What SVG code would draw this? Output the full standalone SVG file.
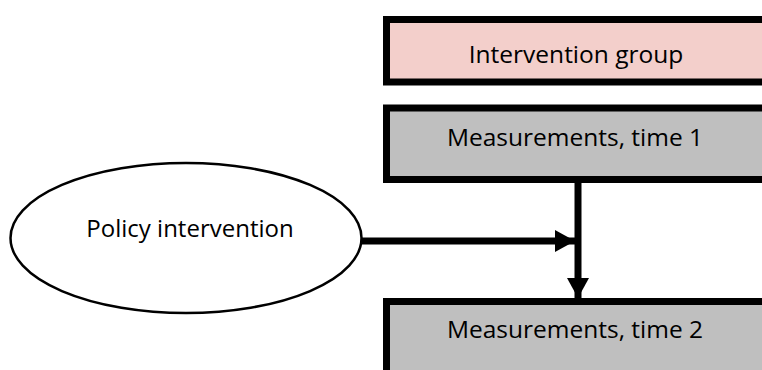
<svg xmlns="http://www.w3.org/2000/svg" width="762" height="370" viewBox="0 0 762 370">
<defs>
<style>
.box{stroke:#000;stroke-width:7}
.pink{fill:#f3cfcb}
.gray{fill:#bfbfbf}
.lbl{font-family:"Open Sans","Noto Sans",sans-serif;font-size:24.5px;fill:#000;text-anchor:middle}
.conn{stroke:#000;stroke-width:7;fill:none}
</style>
<marker id="ah" viewBox="0 0 20 22" refX="20" refY="11" markerWidth="20" markerHeight="22" markerUnits="userSpaceOnUse" orient="auto">
<path d="M0,0 L20,11 L0,22 Z" fill="#000"/>
</marker>
</defs>
<rect width="762" height="370" fill="#fff"/>
<g id="intervention-group">
<rect class="box pink" x="386.5" y="19.5" width="380" height="62.5"/>
<text class="lbl" x="576" y="63">Intervention group</text>
</g>
<g id="measurements-time-1">
<rect class="box gray" x="386.5" y="108" width="380" height="71.5"/>
<text class="lbl" x="575" y="146">Measurements, time 1</text>
</g>
<g id="measurements-time-2">
<rect class="box gray" x="386.5" y="301.5" width="380" height="80"/>
<text class="lbl" x="575" y="338">Measurements, time 2</text>
</g>
<g id="policy-intervention">
<ellipse cx="186" cy="238" rx="175.5" ry="75" fill="#fff" stroke="#000" stroke-width="2.5"/>
<text class="lbl" x="190" y="237" style="font-size:24px">Policy intervention</text>
</g>
<g id="connectors">
<line class="conn" x1="578" y1="183" x2="578" y2="298" marker-end="url(#ah)"/>
<line class="conn" x1="362" y1="241" x2="575" y2="241" marker-end="url(#ah)"/>
</g>
</svg>
